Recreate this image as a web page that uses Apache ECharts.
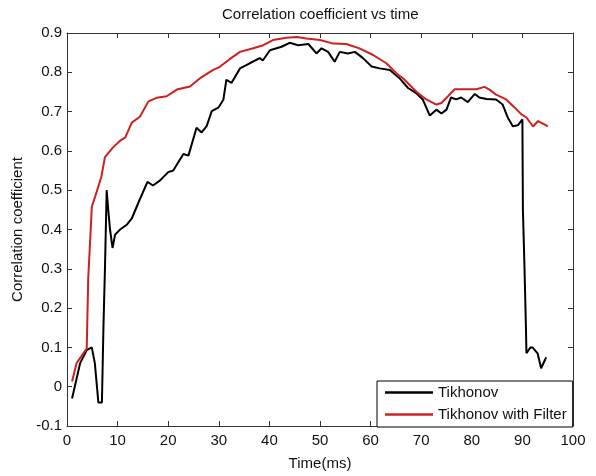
<!DOCTYPE html>
<html>
<head>
<meta charset="utf-8">
<script src="https://cdn.jsdelivr.net/npm/echarts@6/dist/echarts.min.js"></script>
<style>html,body{margin:0;padding:0;background:#fff}#c{width:596px;height:476px}</style>
</head>
<body>
<div id="c"></div>
<script>
var titleText = 'Correlation coefficient vs time';
var xName = 'Time(ms)';
var yName = 'Correlation coefficient';
var seriesNames = ['Tikhonov', 'Tikhonov with Filter'];

var tikX = [1,2.6,3.9,4.9,5.5,6.2,6.9,7.2,7.5,7.84,8.15,8.5,9.0,9.5,10.5,11.8,12.8,14.4,15.9,17.0,18.4,20.0,21.0,23.0,24.0,25.6,26.6,27.6,28.6,29.9,30.9,31.5,32.5,34.2,36.1,38.1,38.7,40.1,42.4,44.0,45.7,47.7,49.3,50.3,51.6,52.9,53.9,55.5,56.9,58.5,60.2,61.8,63.8,65.7,67.4,69.0,70.3,71.7,73.0,74.0,75.0,75.9,76.9,77.9,79.2,80.6,81.5,82.9,84.8,86.1,87.1,88.1,89.1,90.0,90.1,90.4,90.7,90.8,91.6,92.0,93.0,93.7,94.7];
var tikY = [-0.03,0.06,0.093,0.10,0.06,-0.04,-0.04,0.15,0.30,0.50,0.45,0.40,0.353,0.387,0.40,0.412,0.428,0.477,0.521,0.512,0.525,0.546,0.55,0.592,0.588,0.659,0.647,0.663,0.701,0.71,0.73,0.781,0.773,0.81,0.823,0.836,0.83,0.856,0.865,0.875,0.869,0.872,0.848,0.861,0.852,0.827,0.852,0.848,0.852,0.836,0.815,0.81,0.806,0.785,0.76,0.747,0.731,0.69,0.705,0.695,0.705,0.736,0.731,0.736,0.724,0.745,0.736,0.732,0.731,0.718,0.685,0.663,0.665,0.68,0.45,0.31,0.15,0.085,0.10,0.10,0.085,0.047,0.075];

var filtX = [1,1.9,3.2,3.9,4.2,4.7,4.9,5.9,6.8,7.5,9.1,10.5,11.5,12.8,14.4,16.1,17.7,19.7,21.7,24.3,26.3,28.9,30.2,32.2,34.2,36.8,38.8,40.7,43.4,45.4,47.3,50.0,52.6,55.2,57.8,60.5,63.1,65.4,66.4,69.0,71.0,73.0,74.0,75.3,76.6,78.9,80.9,82.5,83.5,84.8,86.8,88.5,89.8,90.8,92.1,93.1,94.7,95.0];
var filtY = [0.013,0.06,0.084,0.097,0.278,0.403,0.458,0.497,0.535,0.584,0.609,0.626,0.634,0.672,0.687,0.726,0.735,0.739,0.756,0.764,0.785,0.806,0.814,0.834,0.852,0.861,0.869,0.882,0.888,0.89,0.886,0.882,0.873,0.872,0.861,0.844,0.823,0.794,0.785,0.751,0.731,0.718,0.722,0.739,0.757,0.757,0.757,0.763,0.756,0.743,0.731,0.71,0.693,0.685,0.662,0.676,0.665,0.662];

function zip(a, b) { return a.map(function (v, i) { return [v, b[i]]; }); }

var FONT = 'Liberation Sans';
var FS = 15;
var axisCol = '#333';
var chart = echarts.init(document.getElementById('c'), null, {renderer: 'canvas'});
var fmtY = function (v) { return String(+v.toFixed(1)); };
var lineSty = {onZero: false, show: true, lineStyle: {color: axisCol, width: 1}};
var tickSty = {show: true, inside: true, length: 5, lineStyle: {color: axisCol}};

chart.setOption({
  animation: false,
  backgroundColor: '#fff',
  title: {
    text: titleText, left: 217, top: 2,
    textStyle: {fontFamily: FONT, fontSize: FS, fontWeight: 'normal', color: '#111'}
  },
  grid: {left: 67, right: 23, top: 33, bottom: 46, containLabel: false},
  legend: {
    orient: 'vertical', left: 377, top: 381,
    backgroundColor: '#fff', borderColor: '#000', borderWidth: 1,
    padding: [4, 6, 5, 8], itemGap: 7, itemWidth: 48, itemHeight: 2.5, icon: 'rect',
    textStyle: {fontFamily: FONT, fontSize: FS, color: '#111'},
    data: seriesNames
  },
  xAxis: [{
    type: 'value', min: 0, max: 100, interval: 10,
    name: xName, nameLocation: 'middle', nameGap: 30,
    nameTextStyle: {fontFamily: FONT, fontSize: FS, color: '#111'},
    axisLine: lineSty, axisTick: tickSty,
    axisLabel: {fontFamily: FONT, fontSize: FS, color: '#111', margin: 7},
    splitLine: {show: false}
  }, {
    type: 'value', min: 0, max: 100, interval: 10, position: 'top',
    axisLine: lineSty, axisTick: tickSty,
    axisLabel: {show: false}, splitLine: {show: false}
  }],
  yAxis: [{
    type: 'value', min: -0.1, max: 0.9, interval: 0.1,
    name: yName, nameLocation: 'middle', nameGap: 41, nameRotate: 90,
    nameTextStyle: {fontFamily: FONT, fontSize: FS, color: '#111'},
    axisLine: lineSty, axisTick: tickSty,
    axisLabel: {fontFamily: FONT, fontSize: FS, color: '#111', margin: 5, formatter: fmtY},
    splitLine: {show: false}
  }, {
    type: 'value', min: -0.1, max: 0.9, interval: 0.1, position: 'right',
    axisLine: lineSty, axisTick: tickSty,
    axisLabel: {show: false}, splitLine: {show: false}
  }],
  series: [{
    name: seriesNames[0], type: 'line', data: zip(tikX, tikY),
    showSymbol: false, symbol: 'none', color: '#000',
    lineStyle: {color: '#000', width: 2}
  }, {
    name: seriesNames[1], type: 'line', data: zip(filtX, filtY),
    showSymbol: false, symbol: 'none', color: '#d01f1f',
    lineStyle: {color: '#d01f1f', width: 2}
  }]
});
</script>
</body>
</html>
